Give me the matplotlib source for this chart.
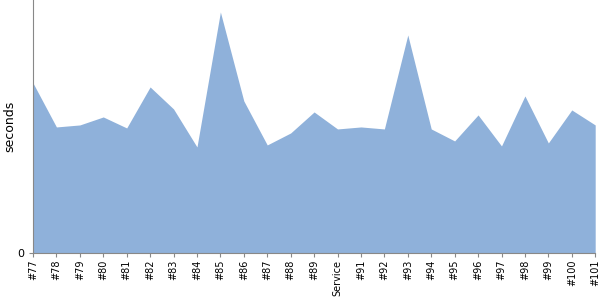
import matplotlib
matplotlib.use("Agg")
import matplotlib.pyplot as plt

labels = ['#77', '#78', '#79', '#80', '#81', '#82', '#83', '#84', '#85', '#86',
          '#87', '#88', '#89', 'Service', '#91', '#92', '#93', '#94', '#95',
          '#96', '#97', '#98', '#99', '#100', '#101']
seconds = [170, 126, 128, 136, 125, 166, 144, 106, 241, 152,
           108, 120, 141, 124, 126, 124, 218, 124, 112,
           138, 107, 157, 110, 143, 128]

fig = plt.figure(figsize=(6, 3), dpi=100)
ax = fig.add_axes([0.055, 0.157, 0.937, 0.843])
x = range(len(labels))
ax.fill_between(x, seconds, 0, color='#8fb1da', linewidth=0)
ax.set_xlim(0, len(labels) - 1)
ax.set_ylim(0, 253)
ax.set_xticks(list(x))
ax.set_xticklabels(labels, rotation=90, fontsize=7)
ax.set_yticks([0])
ax.tick_params(axis='y', labelsize=8, length=3, color='#888888')
ax.tick_params(axis='x', length=3, color='#888888', pad=2)
ax.set_ylabel('seconds', fontsize=9)
ax.yaxis.set_label_coords(-0.029, 0.50)
for side in ['top', 'right']:
    ax.spines[side].set_visible(False)
for side in ['left', 'bottom']:
    ax.spines[side].set_color('#888888')
fig.savefig('out.png')
